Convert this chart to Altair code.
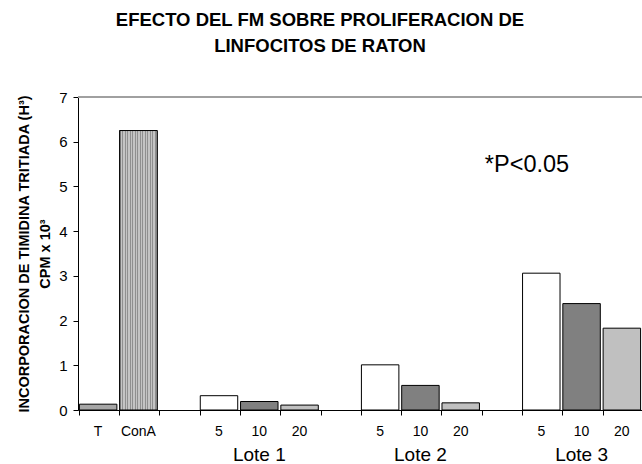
import altair as alt
import pandas as pd

# ---- data ----
categories = ["T", "ConA", "gap1", "L1|5", "L1|10", "L1|20", "gap2",
              "L2|5", "L2|10", "L2|20", "gap3", "L3|5", "L3|10", "L3|20"]
bar_keys = ["T", "ConA", "L1|5", "L1|10", "L1|20", "L2|5", "L2|10", "L2|20",
            "L3|5", "L3|10", "L3|20"]
cpm = [0.13, 6.25, 0.32, 0.19, 0.11, 1.01, 0.55, 0.16, 3.06, 2.38, 1.83]
fills = ["#a6a6a6", "#b0b0b0", "#ffffff", "#808080", "#c0c0c0",
         "#ffffff", "#808080", "#c0c0c0", "#ffffff", "#808080", "#c0c0c0"]
lotes = ["Lote 1", "Lote 2", "Lote 3"]
lote_keys = ["L1|10", "L2|10", "L3|10"]
y_ticks = [0, 1, 2, 3, 4, 5, 6, 7]
title_lines = ["EFECTO DEL FM SOBRE PROLIFERACION DE", "LINFOCITOS DE RATON"]
y_title = ["INCORPORACION DE TIMIDINA TRITIADA (H³)", "CPM x 10³"]
note = "*P<0.05"

FONT = "Liberation Sans"
W, H = 564, 313

df = pd.DataFrame({"key": bar_keys, "cpm": cpm, "fill": fills})
lote_df = pd.DataFrame({"key": lote_keys, "lote": lotes})

label_expr = ("indexof(datum.value,'|')>=0 ? split(datum.value,'|')[1] : "
              "(indexof(datum.value,'gap')==0 ? '' : datum.value)")

x_enc = alt.X(
    "key:N",
    scale=alt.Scale(domain=categories, paddingInner=0.07, paddingOuter=0.035),
    axis=alt.Axis(
        title=None, labelAngle=0, bandPosition=0,
        labelExpr=label_expr, labelFontSize=14, labelPadding=9,
        labelColor="black", tickSize=5, tickColor="black",
        domainColor="black", labelFont=FONT,
    ),
)
y_scale = alt.Scale(domain=[0, 7], nice=False)

bars = alt.Chart(df).mark_bar(stroke="black", strokeWidth=1).encode(
    x=x_enc,
    y=alt.Y(
        "cpm:Q", scale=y_scale,
        axis=alt.Axis(
            values=y_ticks, grid=False, title=y_title, titleFont=FONT,
            titleFontSize=14.5, titleFontWeight="bold", titleColor="black",
            titleAngle=-90, titleX=-61, titleY=H / 2, titleAlign="center",
            titleBaseline="top", titleLineHeight=21,
            labelFontSize=15, labelColor="black", labelFont=FONT,
            tickSize=5, tickColor="black", domainColor="black", labelPadding=6,
        ),
    ),
    fill=alt.Fill("fill:N", scale=None),
)

# striped fill for the ConA bar
n_stripes = 15
stops = []
for i in range(n_stripes):
    a, b = i / n_stripes, (i + 0.5) / n_stripes
    c = (i + 1) / n_stripes
    stops += [alt.GradientStop(color="#8f8f8f", offset=a),
              alt.GradientStop(color="#8f8f8f", offset=b),
              alt.GradientStop(color="#c4c4c4", offset=b),
              alt.GradientStop(color="#c4c4c4", offset=c)]
stripe = alt.LinearGradient(gradient="linear", stops=stops, x1=0, x2=1, y1=0, y2=0)

conA = alt.Chart(df).transform_filter(alt.datum.key == "ConA").mark_bar(
    stroke="black", strokeWidth=1, fill=stripe
).encode(x=alt.X("key:N"), y=alt.Y("cpm:Q", scale=y_scale))

top_line = alt.Chart(df).mark_rule(color="#a0a0a0", strokeWidth=1.5).encode(
    y=alt.datum(7)
)

lote_text = alt.Chart(lote_df).mark_text(
    fontSize=19, font=FONT, color="black", baseline="alphabetic"
).encode(x=alt.X("key:N"), y=alt.value(H + 51), text="lote:N")

note_text = alt.Chart(pd.DataFrame({"t": [note]})).mark_text(
    fontSize=23.5, font=FONT, color="black", baseline="middle"
).encode(x=alt.value(449), y=alt.datum(5.48), text="t:N")

chart = alt.layer(top_line, bars, conA, lote_text, note_text).properties(
    width=W, height=H,
    title=alt.TitleParams(
        text=title_lines, font=FONT, fontSize=18.5, fontWeight="bold",
        color="black", anchor="middle", dx=-40, offset=35, lineHeight=26,
    ),
    autosize=alt.AutoSizeParams(type="none"),
    padding={"left": 78, "top": 97, "right": 0, "bottom": 54},
).configure_view(stroke=None).configure(background="white")

chart.save("out.html", embed_options={"renderer": "svg", "actions": False})
